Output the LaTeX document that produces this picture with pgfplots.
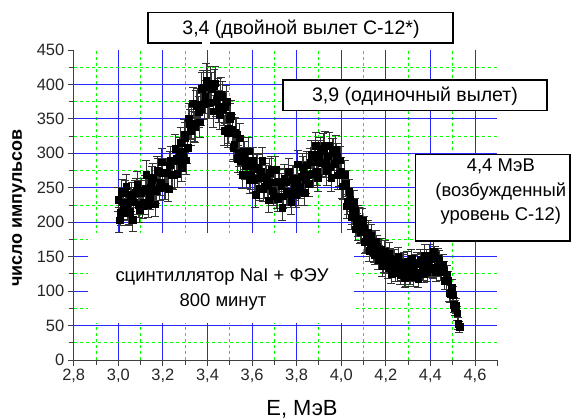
\documentclass[border=0pt]{standalone}
\usepackage{pgfplots}
\usepackage{pgfplotstable}
\pgfplotsset{compat=1.18}
\usepackage{fontspec}
\setmainfont{Liberation Sans}

\pgfplotstableread{
x y e
3.00 233 18
3.01 214 18
3.02 229 18
3.03 242 19
3.04 222 18
3.05 215 18
3.06 240 18
3.07 229 18
3.08 244 19
3.09 225 18
3.10 242 19
3.11 223 18
3.12 249 19
3.13 245 19
3.14 237 18
3.15 262 19
3.16 248 19
3.17 246 19
3.18 273 20
3.19 258 19
3.20 271 19
3.21 252 19
3.22 272 19
3.23 283 20
3.24 268 19
3.25 269 19
3.26 292 20
3.27 289 20
3.28 315 22
3.29 300 20
3.30 323 22
3.31 308 22
3.32 342 22
3.33 344 23
3.34 339 22
3.35 369 23
3.36 360 23
3.37 364 23
3.38 396 24
3.39 382 24
3.40 397 24
3.41 374 23
3.42 394 24
3.43 398 24
3.44 376 23
3.45 368 23
3.46 386 24
3.47 363 23
3.48 367 23
3.49 330 22
3.50 350 23
3.51 334 22
3.52 313 22
3.53 328 22
3.54 301 20
3.55 289 20
3.56 303 20
3.57 282 20
3.58 289 20
3.59 261 19
3.60 278 20
3.61 262 19
3.62 280 20
3.63 264 19
3.64 273 20
3.65 249 19
3.66 266 19
3.67 253 19
3.68 272 20
3.69 246 19
3.70 258 19
3.71 238 18
3.72 259 19
3.73 252 19
3.74 238 18
3.75 259 19
3.76 243 19
3.77 241 19
3.78 264 19
3.79 251 19
3.80 263 19
3.81 244 19
3.82 266 19
3.83 276 20
3.84 261 19
3.85 269 19
3.86 287 20
3.87 270 19
3.88 288 20
3.89 273 20
3.90 298 20
3.91 286 20
3.92 307 22
3.93 285 20
3.94 296 20
3.95 281 20
3.96 301 20
3.97 285 20
3.98 295 20
3.99 271 19
4.00 274 20
4.01 252 19
4.02 256 19
4.03 230 18
4.04 233 18
4.05 215 18
4.06 217 18
4.07 196 17
4.08 205 17
4.09 187 17
4.10 191 17
4.11 172 16
4.12 185 17
4.13 167 16
4.14 171 16
4.15 152 14
4.16 165 16
4.17 152 14
4.18 160 16
4.19 141 14
4.20 149 14
4.21 133 14
4.22 148 14
4.23 137 14
4.24 146 14
4.25 127 13
4.26 140 14
4.27 128 13
4.28 142 14
4.29 120 13
4.30 133 14
4.31 122 13
4.32 138 14
4.33 127 13
4.34 142 14
4.35 126 13
4.36 141 14
4.37 125 13
4.38 147 14
4.39 135 14
4.40 147 14
4.41 132 13
4.42 151 14
4.43 135 14
4.44 145 14
4.45 128 13
4.46 130 13
4.47 116 13
4.48 116 13
4.49 96 12
4.50 95 12
4.51 75 11
4.52 68 10
4.53 48 8
}\spectrum

\pgfplotstableread{
x y e
3.005 203 18
3.015 244 18
3.025 220 18
3.035 252 18
3.045 214 18
3.055 233 18
3.065 204 18
3.075 243 18
3.085 255 18
3.095 218 18
3.105 246 18
3.115 229 18
3.125 269 20
3.135 225 18
3.145 250 18
3.155 265 20
3.165 226 18
3.175 275 20
3.185 250 18
3.195 287 20
3.205 251 18
3.215 272 20
3.225 248 18
3.235 290 20
3.245 268 20
3.255 307 20
3.265 270 20
3.275 303 20
3.285 279 20
3.295 327 22
3.305 290 20
3.315 351 22
3.325 333 22
3.335 373 23
3.345 338 22
3.355 371 23
3.365 345 22
3.375 394 24
3.385 372 23
3.395 406 24
3.405 373 23
3.415 402 24
3.425 361 23
3.435 402 24
3.445 385 24
3.455 356 22
3.465 382 23
3.475 333 22
3.485 375 23
3.495 336 22
3.505 355 22
3.515 308 20
3.525 330 22
3.535 292 20
3.545 322 22
3.555 269 20
3.565 297 20
3.575 269 20
3.585 303 20
3.595 268 20
3.605 289 20
3.615 240 18
3.625 278 20
3.635 249 18
3.645 289 20
3.655 252 18
3.665 263 20
3.675 232 18
3.685 276 20
3.695 243 18
3.705 276 20
3.715 234 18
3.725 258 18
3.735 221 18
3.745 264 20
3.755 244 18
3.765 273 20
3.775 230 18
3.785 262 20
3.795 240 18
3.805 284 20
3.815 252 18
3.825 280 20
3.835 243 18
3.845 283 20
3.855 256 18
3.865 298 20
3.875 271 20
3.885 311 20
3.895 265 20
3.905 303 20
3.915 286 20
3.925 312 20
3.935 274 20
3.945 311 20
3.955 265 20
3.965 301 20
3.975 306 20
3.985 268 20
3.995 290 20
4.005 252 18
4.015 269 20
4.025 223 18
4.035 244 18
4.045 207 18
4.055 228 18
4.065 190 17
4.075 206 18
4.085 186 17
4.095 202 18
4.105 171 16
4.115 183 17
4.125 159 16
4.135 180 17
4.145 157 16
4.155 172 16
4.165 145 14
4.175 161 16
4.185 136 14
4.195 157 16
4.205 139 14
4.215 155 16
4.225 125 14
4.235 146 14
4.245 128 14
4.255 150 14
4.265 123 14
4.275 139 14
4.285 119 13
4.295 143 14
4.305 123 14
4.315 147 14
4.325 121 14
4.335 139 14
4.345 118 13
4.355 146 14
4.365 130 14
4.375 152 16
4.385 128 14
4.395 152 16
4.405 134 14
4.415 157 16
4.425 128 14
4.435 148 14
4.445 129 14
4.455 139 14
4.465 115 13
4.475 124 13
4.485 97 12
4.495 105 12
4.505 80 11
4.515 79 11
4.525 53 9
}\spectrumb

\begin{document}
\begin{tikzpicture}
\begin{axis}[
  at={(0bp,0bp)}, anchor=south west,
  scale only axis, width=423.6bp, height=310bp,
  xmin=2.8, xmax=4.7, ymin=0, ymax=450,
  axis x line=bottom, axis y line=left,
  axis line style={-, black!75, line width=1bp},
  xtick={2.8,3.0,3.2,3.4,3.6,3.8,4.0,4.2,4.4,4.6},
  minor xtick={2.9,3.1,3.3,3.5,3.7,3.9,4.1,4.3,4.5},
  ytick={0,50,100,150,200,250,300,350,400},
  minor ytick={25,75,125,175,225,275,325,375,425},
  extra x ticks={4.7}, extra x tick labels={},
  extra y ticks={450},
  extra tick style={grid=none},
  tick align=outside,
  major tick length=6bp, minor tick length=5bp,
  tick style={black!75, line width=0.9bp},
  grid=both,
  major grid style={blue!85!white, line width=0.9bp},
  minor grid style={green, dash pattern=on 3bp off 3bp, line width=0.9bp},
  /pgf/number format/assume math mode=true,
  ticklabel style={font=\fontsize{16.5}{18}\selectfont, text=black!85},
  xticklabel style={/pgf/number format/.cd, fixed, fixed zerofill, precision=1, use comma},
  yticklabel style={/pgf/number format/.cd, fixed, precision=0},
]
\addplot[only marks, mark=square*, mark size=3.3bp, mark options={fill=black, draw=black, line width=0.4bp},
  error bars/.cd, y dir=both, y explicit,
  error bar style={line width=0.9bp, black!80},
  error mark options={rotate=90, mark size=4bp, line width=0.9bp, black!80}]
  table[x=x, y=y, y error=e] {\spectrum};
\addplot[only marks, mark=square*, mark size=3.3bp, mark options={fill=black, draw=black, line width=0.4bp},
  error bars/.cd, y dir=both, y explicit,
  error bar style={line width=0.9bp, black!80},
  error mark options={rotate=90, mark size=4bp, line width=0.9bp, black!80}]
  table[x=x, y=y, y error=e] {\spectrumb};
\end{axis}

% white patch behind the caption text
\node[fill=white, minimum width=266bp, minimum height=90bp, inner sep=0] at (147.3bp,82bp) {};
\node[anchor=base, font=\fontsize{18.5}{20}\selectfont] at (148.3bp,78bp) {сцинтиллятор NaI + ФЭУ};
\node[anchor=base, font=\fontsize{18.5}{20}\selectfont] at (149.3bp,53.3bp) {800 минут};

% box 1
\node[draw=black, line width=1.2bp, fill=white, minimum width=305bp, minimum height=30.5bp, inner sep=0] at (226.8bp,332.25bp) {};
\draw[white, line width=2.5bp] (128.3bp,317bp) -- (136.3bp,317bp);
\node[anchor=base, font=\fontsize{19.6}{21}\selectfont] at (227.3bp,325bp) {3,4 (двойной вылет С-12*)};

% box 2
\node[draw=black, line width=1.2bp, fill=white, minimum width=264bp, minimum height=30.7bp, inner sep=0] at (341.3bp,264.65bp) {};
\node[anchor=base, font=\fontsize{19.6}{21}\selectfont] at (341.3bp,258bp) {3,9 (одиночный вылет)};

% box 3
\node[draw=black, line width=1.2bp, fill=white, minimum width=154.3bp, minimum height=86.7bp, inner sep=0] at (419.2bp,162.3bp) {};
\node[anchor=base, font=\fontsize{18.5}{20}\selectfont] at (427.1bp,188bp) {4,4 МэВ};
\node[anchor=base, font=\fontsize{18.5}{20}\selectfont] at (427.1bp,163.3bp) {(возбужденный};
\node[anchor=base, font=\fontsize{18.5}{20}\selectfont] at (427.1bp,139.3bp) {уровень С-12)};

% axis labels
\node[anchor=base, font=\fontsize{22}{24}\selectfont] at (228.3bp,-55bp) {E, МэВ};
\node[rotate=90, anchor=center, font=\bfseries\fontsize{18}{20}\selectfont] at (-54.7bp,152bp) {число импульсов};

\pgfresetboundingbox
\path[use as bounding box] (-73.7bp,-59bp) rectangle (497.3bp,360bp);
\end{tikzpicture}
\end{document}
